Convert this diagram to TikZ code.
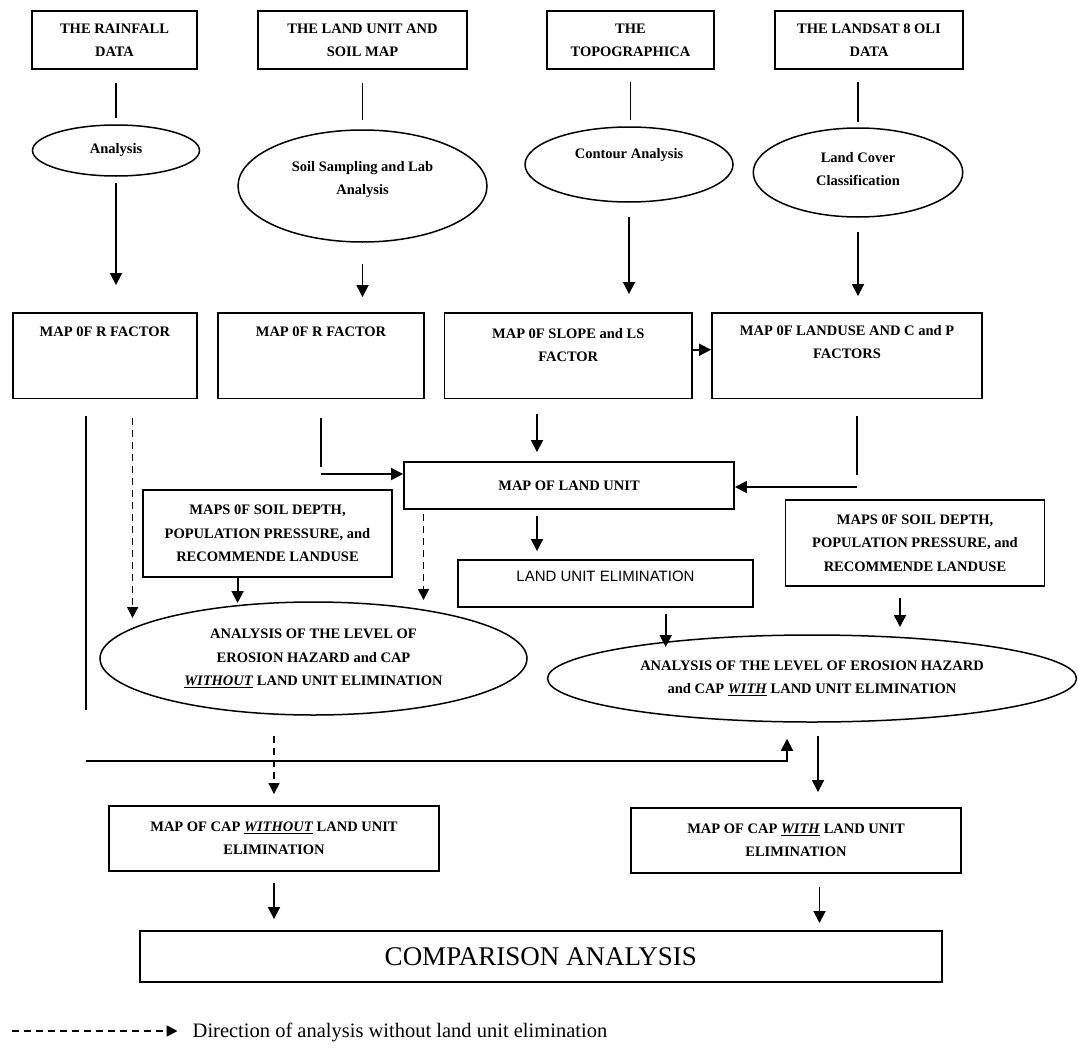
\documentclass[tikz,border=0pt]{standalone}
\usepackage{fontspec}
\setmainfont{Liberation Serif}
\newfontfamily\elimfont{Liberation Sans}
\usepackage{tikz}
\usetikzlibrary{shapes.geometric,arrows.meta}

\newcommand{\bx}{\fontsize{14.5}{23.5}\selectfont\bfseries}
\newcommand{\attop}[4]{\parbox[c][#2][t]{#1}{\centering\vspace*{#3}#4\par}}
\newcommand{\ulit}[1]{\underline{\textit{#1}}}

\begin{document}
\begin{tikzpicture}[x=1pt,y=1pt,
  databox/.style={draw,line width=1.9pt,inner sep=0pt,align=center,font=\bx},
  proc/.style={draw,ellipse,line width=1.5pt,inner sep=0pt,align=center,font=\bx},
  link/.style={line width=1.8pt},
  arr/.style={line width=1.8pt,-{Triangle[width=12pt,length=12pt]}},
  darr/.style={line width=1.6pt,dash pattern=on 7pt off 5pt,-{Triangle[width=11pt,length=11pt]}}]
\useasboundingbox (0,0) rectangle (1078,-1049);

% data sources
\node[databox,minimum width=165.6,minimum height=58.3] (rain) at (114.5,-40.2) {THE RAINFALL\\DATA};
\node[databox,minimum width=209,minimum height=58.3] (lunit) at (362.5,-40.2) {THE LAND UNIT AND\\SOIL MAP};
\node[databox,minimum width=167,minimum height=58.3] (topo) at (630.5,-40.2) {THE\\TOPOGRAPHICA};
\node[databox,minimum width=188,minimum height=58.3] (landsat) at (869,-40.2) {THE LANDSAT 8 OLI\\DATA};

% processing
\node[proc,minimum width=167,minimum height=51] (ana) at (116,-150.5) {Analysis};
\node[proc,minimum width=249,minimum height=112] (soil) at (362.5,-186) {\attop{170pt}{78pt}{14pt}{Soil Sampling and Lab\\Analysis}};
\node[proc,minimum width=208,minimum height=75] (contour) at (629,-164.5) {\attop{140pt}{52pt}{9.5pt}{Contour Analysis}};
\node[proc,minimum width=209.5,minimum height=89] (cover) at (858,-172.5) {\attop{140pt}{62pt}{10.5pt}{Land Cover\\Classification}};

% factor maps
\node[databox,minimum width=184.3,minimum height=85.5] (r1) at (104.85,-355.75) {\attop{180pt}{85.5pt}{14pt}{MAP 0F R FACTOR}};
\node[databox,minimum width=206,minimum height=85.5] (r2) at (321,-355.75) {\attop{200pt}{85.5pt}{14pt}{MAP 0F R FACTOR}};
\node[databox,minimum width=247.5,minimum height=85.5] (slope) at (568.25,-355.75) {\attop{240pt}{85.5pt}{15pt}{MAP 0F SLOPE and LS\\FACTOR}};
\node[databox,minimum width=270,minimum height=85.5] (landuse) at (847,-355.75) {\attop{264pt}{85.5pt}{12pt}{MAP 0F LANDUSE AND C and P\\FACTORS}};

\node[databox,minimum width=330,minimum height=47] (lumap) at (569,-485.5) {MAP OF LAND UNIT};
\node[databox,minimum width=295,minimum height=47,font=\elimfont\fontsize{15}{18}\selectfont] (elim) at (605.5,-583.5) {\attop{290pt}{47pt}{11.5pt}{LAND UNIT ELIMINATION}};
\node[databox,minimum width=249,minimum height=87] (lmaps) at (267.5,-533.5) {MAPS 0F SOIL DEPTH,\\POPULATION PRESSURE, and\\RECOMMENDE LANDUSE};
\node[databox,minimum width=259,minimum height=86] (rmaps) at (915,-543) {MAPS 0F SOIL DEPTH,\\POPULATION PRESSURE, and\\RECOMMENDE LANDUSE};

% hazard analysis
\node[proc,minimum width=427,minimum height=113] (woana) at (313.5,-658.5) {ANALYSIS OF THE LEVEL OF\\EROSION HAZARD and CAP\\\ulit{WITHOUT} LAND UNIT ELIMINATION};
\node[proc,minimum width=529,minimum height=87] (withana) at (812,-678.5) {ANALYSIS OF THE LEVEL OF EROSION HAZARD\\and CAP \ulit{WITH} LAND UNIT ELIMINATION};

\node[databox,minimum width=330,minimum height=65] (capwo) at (274,-838.5) {MAP OF CAP \ulit{WITHOUT} LAND UNIT\\ELIMINATION};
\node[databox,minimum width=330,minimum height=65] (capw) at (796,-840.5) {MAP OF CAP \ulit{WITH} LAND UNIT\\ELIMINATION};
\node[databox,minimum width=802.4,minimum height=51,font=\fontsize{27}{30}\selectfont] (compare) at (540.8,-956.5) {COMPARISON ANALYSIS};

% legend
\coordinate (legstart) at (12,-1031);
\node[anchor=west,inner sep=0pt,font=\fontsize{20.5}{24}\selectfont] (legtext) at (192.5,-1032) {Direction of analysis without land unit elimination};
\draw[darr] (legstart) -- ([xshift=-15pt]legtext.west |- legstart);

% top connectors
\draw[link,shorten <=12.7pt,shorten >=6pt] (ana.north |- rain.south) -- (ana.north);
\draw[link,shorten <=12.7pt,shorten >=9pt] (soil.north |- lunit.south) -- (soil.north);
\draw[link,shorten <=11.7pt,shorten >=6pt] (topo.south) -- (topo.south |- contour.north);
\draw[link,shorten <=11.7pt,shorten >=5pt] (cover.north |- landsat.south) -- (cover.north);
\draw[arr,shorten <=6pt,shorten >=27pt] (ana.south) -- (ana.south |- r1.north);
\draw[arr,shorten <=21pt,shorten >=15pt] (soil.south) -- (soil.south |- r2.north);
\draw[arr,shorten <=14pt,shorten >=18pt] (contour.south) -- (contour.south |- slope.north);
\draw[arr,shorten <=14pt,shorten >=16pt] (cover.south) -- (cover.south |- landuse.north);
\draw[arr] ([yshift=6pt]slope.east) -- ([yshift=6pt]landuse.west);

% R factor lines
\coordinate (rdrop) at (86,-710);
\coordinate (rrun) at (86,-761);
\coordinate (rrise) at (787,-761);
\draw[link,shorten <=16.5pt] (r1.south -| rdrop) -- (rdrop);
\draw[arr,shorten >=16pt] (rrun) -| (rrise |- withana.south);
\coordinate (rdash) at (132.6,-618);
\draw[darr,shorten <=18.5pt] (r1.south -| rdash) -- (rdash);
\coordinate (rbend) at (321,-474);
\draw[link,shorten <=18.5pt,shorten >=7pt] (r2.south) -- (rbend);
\draw[arr] (rbend) -- (rbend -| lumap.west);

% land unit
\coordinate (lutop) at ([xshift=-32pt]lumap.north);
\coordinate (lubot) at ([xshift=-32pt]lumap.south);
\draw[arr,shorten <=14.5pt,shorten >=9pt] (lutop |- slope.south) -- (lutop);
\draw[arr,shorten <=6pt,shorten >=8pt] (lubot) -- (lubot |- elim.north);
\coordinate (lubend) at (857,-487);
\draw[link,shorten <=16.5pt,shorten >=12pt] (landuse.south -| lubend) -- (lubend);
\draw[arr] (lubend) -- (lubend -| lumap.east);
\coordinate (ludash) at (423.5,-600);
\draw[darr,shorten <=4pt] (lumap.south -| ludash) -- (ludash);

% into the analyses
\coordinate (lmapsend) at (237.6,-603);
\draw[arr] (lmaps.south -| lmapsend) -- (lmapsend);
\coordinate (rmapsend) at (900,-627);
\draw[arr,shorten <=11pt] (rmaps.south -| rmapsend) -- (rmapsend);
\coordinate (elimend) at (665.7,-647);
\draw[arr,shorten <=6pt] (elim.south -| elimend) -- (elimend);

% results
\draw[darr,shorten <=20pt,shorten >=11pt] (capwo.north |- woana.south) -- (capwo.north);
\coordinate (wtop) at ([xshift=6pt]withana.south);
\draw[arr,shorten <=13pt,shorten >=15pt] (wtop) -- (wtop |- capw.north);
\draw[arr,shorten <=11pt,shorten >=11pt] (capwo.south) -- (capwo.south |- compare.north);
\coordinate (cwbot) at ([xshift=23.5pt]capw.south);
\draw[arr,shorten <=13pt,shorten >=7pt] (cwbot) -- (cwbot |- compare.north);
\end{tikzpicture}
\end{document}
